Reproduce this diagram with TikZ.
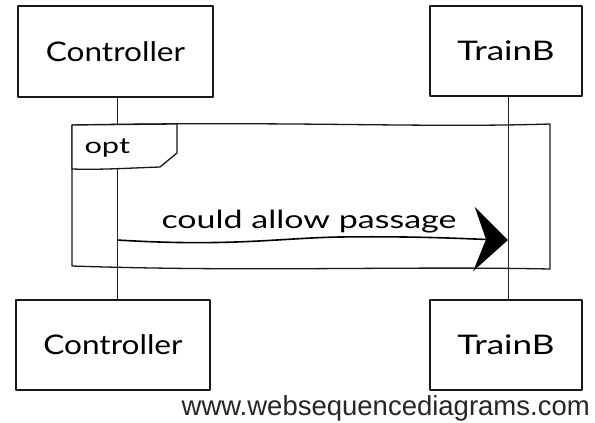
\documentclass[tikz,border=0pt]{standalone}
\usepackage{fontspec}
\setmainfont{Liberation Sans}
\newfontfamily\handfont{Lato}
\usetikzlibrary{arrows.meta,calc}
\tikzset{
  ink/.style={draw=black!90, line width=1.5pt, line join=round, line cap=round},
  actorbox/.style={ink, fill=white, rectangle, inner sep=0pt},
  actortext/.style={font=\handfont\fontsize{27}{30}\selectfont},
  lifeline/.style={draw=black!85, line width=0.9pt},
  msg/.style={draw=black, line width=1.6pt,
    -{Stealth[length=34pt, width=64pt, inset=12pt]}},
}
\newcommand{\widen}[2]{\scalebox{#1}[1]{#2}}
\begin{document}
\begin{tikzpicture}[x=1pt, y=-1pt]
  \useasboundingbox[fill=white] (0,0) rectangle (595,423);

  % lifelines
  \coordinate (cl1) at (117,97);
  \coordinate (cl2) at (117,300);
  \coordinate (tl1) at (508,96);
  \coordinate (tl2) at (508,300);
  \draw[lifeline] (cl1) -- (cl2);
  \draw[lifeline] (tl1) -- (tl2);

  % participant boxes, top and bottom
  \node[actorbox, minimum width=195pt, minimum height=91pt] (ctop) at (115.5,51.5) {};
  \node[actortext] at (ctop.center) {\widen{1.17}{Controller}};
  \node[actorbox, minimum width=152pt, minimum height=90pt] (ttop) at (506,51) {};
  \node[actortext] at (ttop.center) {\widen{1.3}{TrainB}};
  \node[actorbox, minimum width=194pt, minimum height=90pt] (cbot) at (113,345) {};
  \node[actortext] at (cbot.center) {\widen{1.17}{Controller}};
  \node[actorbox, minimum width=152pt, minimum height=90pt] (tbot) at (506,345) {};
  \node[actortext] at (tbot.center) {\widen{1.3}{TrainB}};

  % opt frame with its tab
  \draw[ink, line width=1.3pt] (72,125) .. controls (300,121) and (420,128) .. (550,124)
     -- (550,269) .. controls (400,266) and (250,272) .. (72,266) -- cycle;
  \draw[ink, line width=1.3pt, fill=white] (72,125) -- (177,124) -- (177,153)
     -- (160,167) .. controls (130,168) and (100,170) .. (72,169) -- cycle;
  \node[font=\handfont\fontsize{22}{24}\selectfont, anchor=west] (opt) at (81,148) {\widen{1.4}{opt}};

  % message
  \coordinate (m1) at (117,240);
  \coordinate (m2) at (508,240);
  \draw[msg] (m1) .. controls (230,247) and (280,238) .. (340,237)
     .. controls (420,236) and (470,239) .. (m2);
  \node[font=\handfont\fontsize{25}{28}\selectfont] (lbl) at (309,222) {\widen{1.36}{could allow passage}};

  % watermark
  \node[font=\fontsize{27.5}{30}\selectfont, text=black!85, anchor=east, inner sep=0pt] (wm) at (590,408)
    {www.websequencediagrams.com};
\end{tikzpicture}
\end{document}
